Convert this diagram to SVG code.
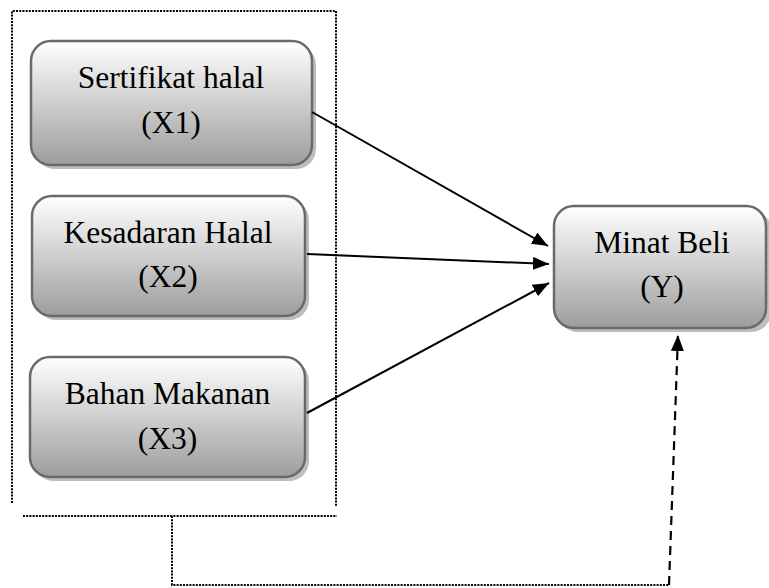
<svg xmlns="http://www.w3.org/2000/svg" width="769" height="588" viewBox="0 0 769 588">
<style>
.box{fill:url(#g);stroke:#6a6a6a;stroke-width:2.5}
.shadow{fill:#bdbdbd}
.t{font-family:'Liberation Serif','Times New Roman',Times,'DejaVu Serif',serif;font-size:31.5px;fill:#000;text-anchor:middle}
.arrow{stroke:#000;stroke-width:2;fill:none;marker-end:url(#ah)}
.dot{stroke:#000;stroke-width:2;fill:none;stroke-dasharray:2 1.2}
.dash{stroke:#000;stroke-width:2.2;fill:none;stroke-dasharray:9 6;marker-end:url(#ah)}
</style>
<defs>
<linearGradient id="g" x1="0" y1="0" x2="0" y2="1">
<stop offset="0" stop-color="#ffffff"/>
<stop offset="1" stop-color="#9d9d9d"/>
</linearGradient>
<marker id="ah" viewBox="0 0 16 13" refX="16" refY="6.5" markerWidth="16" markerHeight="13" markerUnits="userSpaceOnUse" orient="auto">
<path d="M0,0 L16,6.5 L0,13 Z" fill="#000"/>
</marker>
</defs>
<g id="frame">
<path class="dot" d="M12,503 L12,11 L336,11 L336,507"/>
<path class="dot" d="M23,516 L337,516"/>
</g>
<g id="x1">
<rect class="shadow" x="35" y="45" width="281" height="124" rx="20"/>
<rect class="box" x="31" y="41" width="281" height="124" rx="20"/>
<text class="t" x="171" y="88" font-family="Liberation Serif, serif">Sertifikat halal</text>
<text class="t" x="171" y="133" font-family="Liberation Serif, serif">(X1)</text>
</g>
<g id="x2">
<rect class="shadow" x="36" y="200" width="273" height="120" rx="20"/>
<rect class="box" x="32" y="196" width="273" height="120" rx="20"/>
<text class="t" x="168" y="243">Kesadaran Halal</text>
<text class="t" x="168" y="287">(X2)</text>
</g>
<g id="x3">
<rect class="shadow" x="34" y="361" width="275" height="120" rx="20"/>
<rect class="box" x="30" y="357" width="275" height="120" rx="20"/>
<text class="t" x="167.5" y="404">Bahan Makanan</text>
<text class="t" x="167.5" y="449">(X3)</text>
</g>
<g id="y">
<rect class="shadow" x="558" y="210" width="213" height="122" rx="20"/>
<rect class="box" x="554" y="206" width="212" height="122" rx="20"/>
<text class="t" x="662" y="253">Minat Beli</text>
<text class="t" x="662" y="297">(Y)</text>
</g>
<g id="connectors">
<line class="arrow" x1="312" y1="112" x2="548" y2="246"/>
<line class="arrow" x1="307" y1="254" x2="549" y2="264"/>
<line class="arrow" x1="307" y1="413" x2="549" y2="283"/>
<path class="dot" d="M172,516 L172,585 L669,585"/>
<line class="dash" x1="669" y1="585" x2="678" y2="335"/>
</g>
</svg>
